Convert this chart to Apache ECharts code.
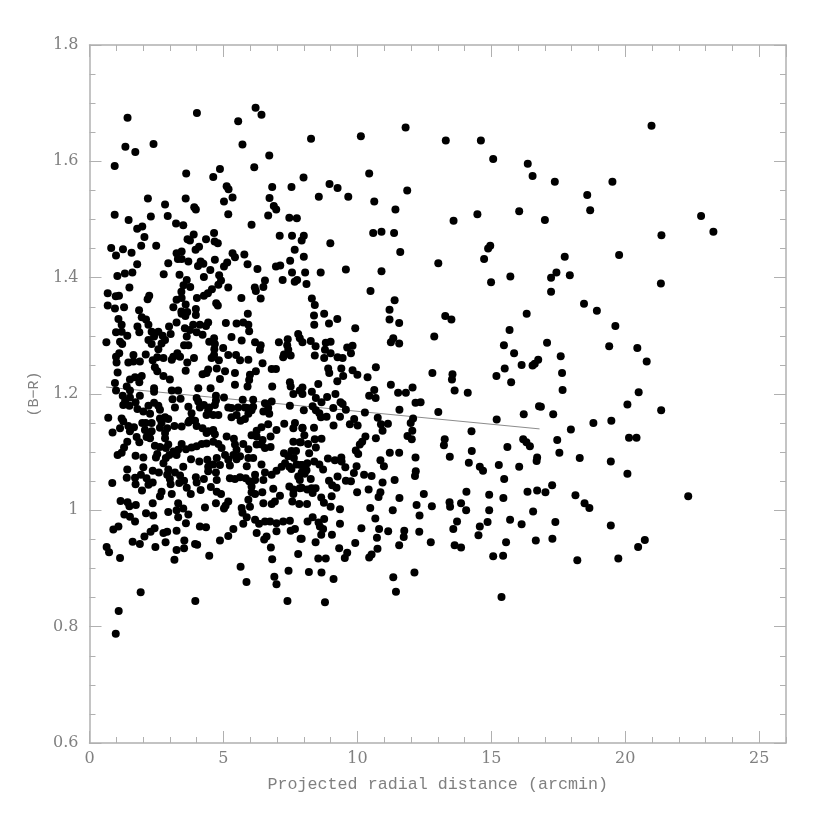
<!DOCTYPE html>
<html>
<head>
<meta charset="utf-8">
<style>
html, body { margin: 0; padding: 0; background: #fff; }
#main { width: 830px; height: 833px; }
</style>
<script src="https://cdn.jsdelivr.net/npm/echarts@6/dist/echarts.min.js"></script>
</head>
<body>
<div id="main"></div>
<script>
// [distance in arcmin, B-R colour]
var clusterPoints = [
[1.42,1.675],[1.34,1.625],[1.71,1.616],[2.39,1.630],[0.94,1.592],[4.01,1.683],[5.55,1.669],[6.20,1.692],[6.42,1.680],[5.71,1.629],
[6.15,1.590],[6.71,1.610],[3.61,1.579],[4.62,1.573],[4.87,1.587],[5.12,1.557],[5.19,1.552],[6.82,1.556],[7.54,1.556],[2.18,1.536],
[2.82,1.526],[3.59,1.536],[3.91,1.521],[3.97,1.517],[5.02,1.531],[5.34,1.538],[6.72,1.537],[6.88,1.523],[6.97,1.517],[0.94,1.508],
[2.29,1.505],[1.46,1.499],[2.92,1.506],[5.18,1.509],[6.67,1.507],[7.46,1.503],[7.74,1.502],[3.23,1.493],[3.50,1.490],[6.05,1.491],
[1.78,1.484],[1.97,1.488],[2.05,1.470],[3.89,1.474],[4.65,1.477],[3.66,1.466],[3.75,1.464],[4.35,1.466],[4.67,1.462],[4.79,1.459],
[7.10,1.472],[7.56,1.472],[7.92,1.464],[0.81,1.451],[1.25,1.449],[1.93,1.455],[2.49,1.455],[1.57,1.443],[0.99,1.438],[4.09,1.453],
[3.96,1.448],[3.25,1.442],[3.44,1.445],[3.30,1.432],[3.44,1.432],[3.69,1.428],[4.68,1.431],[5.34,1.442],[5.43,1.435],[5.78,1.440],
[7.66,1.448],[7.49,1.429],[4.15,1.428],[4.25,1.424],[4.05,1.420],[5.14,1.426],[5.02,1.419],[5.90,1.423],[6.96,1.419],[7.12,1.421],
[1.78,1.423],[2.94,1.425],[6.27,1.415],[7.56,1.409],[4.51,1.413],[2.77,1.406],[3.36,1.405],[4.84,1.404],[1.04,1.403],[1.32,1.407],
[1.60,1.409],[4.27,1.401],[3.63,1.396],[4.91,1.395],[6.55,1.395],[7.21,1.396],[7.66,1.393],[7.75,1.396],[3.51,1.387],[4.81,1.388],
[3.76,1.384],[1.49,1.383],[5.18,1.383],[6.17,1.383],[6.49,1.384],[6.21,1.377],[4.57,1.380],[4.42,1.373],[4.27,1.369],[3.43,1.376],
[0.68,1.373],[0.98,1.368],[1.10,1.369],[2.23,1.369],[2.17,1.363],[3.25,1.362],[3.44,1.365],[4.01,1.365],[5.67,1.365],[6.39,1.364],
[4.73,1.356],[4.79,1.352],[3.59,1.354],[0.68,1.352],[0.95,1.347],[1.29,1.349],[3.13,1.349],[3.97,1.346],[3.43,1.342],[3.65,1.341],
[1.85,1.344],[5.91,1.338],[3.97,1.336],[3.44,1.338],[3.58,1.334],[1.95,1.332],[1.08,1.329],[2.11,1.328],
[8.27,1.639],[10.13,1.643],[11.80,1.658],[13.30,1.636],[14.61,1.636],[15.07,1.604],[16.36,1.596],[16.54,1.575],[7.99,1.572],[8.96,1.561],
[9.26,1.554],[10.44,1.579],[11.86,1.550],[8.56,1.539],[9.66,1.539],[10.63,1.531],[11.42,1.517],[13.59,1.498],[14.48,1.509],[16.04,1.514],
[8.00,1.472],[10.59,1.477],[10.90,1.479],[11.37,1.477],[8.99,1.459],[14.96,1.455],[14.88,1.450],[8.00,1.436],[11.60,1.444],[14.73,1.432],
[13.02,1.425],[8.05,1.409],[8.63,1.409],[9.57,1.414],[10.90,1.411],[15.71,1.402],[14.99,1.392],[8.10,1.389],[10.49,1.377],[8.30,1.364],
[8.41,1.353],[11.39,1.361],[11.20,1.345],[8.76,1.338],[8.38,1.335],[9.25,1.329],[11.20,1.328],[11.56,1.322],[13.28,1.334],[13.51,1.328],
[16.32,1.338],[8.39,1.319],[8.94,1.321],[9.92,1.313],[15.68,1.310],
[12.87,1.299],[15.47,1.284],[15.85,1.270],[16.13,1.250],[16.75,1.259],[16.62,1.252],[16.54,1.249],[15.50,1.244],[15.19,1.231],[15.74,1.220],
[12.80,1.236],[13.55,1.234],[13.53,1.225],[13.63,1.206],[14.12,1.202],[11.34,1.296],[11.25,1.289],[11.56,1.287],[8.26,1.291],[7.95,1.289],
[8.44,1.282],[8.82,1.288],[9.00,1.290],[9.82,1.283],[9.62,1.280],[8.79,1.276],[9.00,1.270],[9.76,1.270],[8.41,1.266],[8.76,1.262],
[9.26,1.263],[9.45,1.262],[8.91,1.244],[8.95,1.236],[9.40,1.244],[9.82,1.241],[9.47,1.231],[10.00,1.233],[10.38,1.229],[10.69,1.246],
[9.25,1.222],[8.54,1.217],[11.25,1.216],[7.95,1.211],[7.95,1.200],[8.30,1.204],[12.06,1.211],[10.63,1.207],[11.52,1.202],[11.81,1.202],
[9.18,1.200],[10.44,1.197],[10.68,1.193],[8.45,1.193],[8.87,1.195],[8.66,1.186],[9.37,1.186],[9.45,1.183],[12.17,1.185],[12.36,1.186],
[8.33,1.179],[9.10,1.176],[9.57,1.173],[8.45,1.172],[8.58,1.167],[10.28,1.168],[11.57,1.173],[13.02,1.169],[16.21,1.165],[16.78,1.179],
[8.85,1.161],[8.64,1.160],[9.35,1.161],[9.88,1.157],[10.76,1.159],[12.08,1.158],[15.20,1.156],[11.99,1.150],[10.88,1.148],[11.14,1.149],
[9.72,1.148],[10.01,1.146],[9.11,1.146],[7.95,1.141],[8.38,1.142],[12.05,1.137],[10.94,1.137],[14.26,1.136],[8.02,1.129],[10.30,1.127],
[11.87,1.128],[10.69,1.124],[8.66,1.123],[8.41,1.122],[12.03,1.122],[13.26,1.122],[13.23,1.112],[10.18,1.118],[10.09,1.113],[8.16,1.114],
[7.89,1.117],[8.45,1.108],[9.94,1.103],[10.03,1.097],[14.27,1.102],[15.60,1.109],[16.19,1.122],[16.31,1.117],[16.44,1.110],[8.20,1.098],
[11.21,1.099],[11.56,1.099],[12.17,1.091],[13.45,1.092],[16.71,1.091],[16.69,1.085],[8.90,1.089],[9.16,1.086],[9.40,1.091],[9.41,1.084],
[10.86,1.086],[8.39,1.084],[8.13,1.081],[8.58,1.079],[7.95,1.078],[9.55,1.074],[9.97,1.076],[10.99,1.076],[14.16,1.082],[15.28,1.078],
[16.04,1.075],[14.57,1.075],[14.69,1.068],[8.72,1.070],[8.10,1.069],[8.03,1.063],[12.18,1.067],[12.15,1.059],[10.25,1.061],[10.53,1.059],
[9.87,1.064],[9.26,1.058],[8.26,1.054],[8.94,1.051],[9.57,1.051],[9.76,1.050],[10.94,1.048],[11.39,1.052],[15.48,1.054],[9.06,1.043],
[9.22,1.039],[7.92,1.039],[8.13,1.036],[8.44,1.038],[8.33,1.030],[9.99,1.031],[10.42,1.036],[10.86,1.031],[14.07,1.032],[12.48,1.028],
[14.92,1.027],[16.35,1.032],[16.71,1.034],[8.65,1.022],[9.04,1.024],[10.79,1.023],[11.57,1.021],[15.45,1.021],[8.75,1.013],[8.12,1.011],
[9.00,1.006],[9.35,1.002],[10.48,1.004],[12.21,1.009],[12.78,1.007],[13.44,1.014],[13.46,1.006],[13.87,1.012],[14.06,1.000],[14.92,1.000],
[11.32,1.000],[16.56,0.998],[12.32,0.991],[10.67,0.986],[8.33,0.988],[8.14,0.981],[8.76,0.985],[13.72,0.981],[15.70,0.984],[16.13,0.976],
[9.35,0.977],[14.86,0.980],[14.57,0.972],[8.55,0.979],[8.60,0.972],[8.72,0.968],[10.15,0.969],[10.81,0.968],[11.15,0.964],[13.58,0.968],
[11.75,0.965],[12.31,0.963],[14.52,0.957],[8.65,0.958],[9.05,0.958],[10.73,0.953],[11.73,0.954],[7.92,0.951],[8.44,0.945],[9.92,0.944],
[12.74,0.945],[15.55,0.945],[16.66,0.948],[11.56,0.940],[13.63,0.940],[13.87,0.936],[9.32,0.935],[10.75,0.934],[9.62,0.927],[10.53,0.924],
[10.44,0.919],[15.07,0.921],[15.44,0.922],[8.54,0.917],[8.82,0.917],[9.53,0.918],
[8.19,0.894],[8.66,0.893],[9.11,0.882],[11.34,0.885],[12.13,0.893],[11.44,0.860],[15.38,0.851],[8.79,0.842],
[1.20,1.319],[1.79,1.316],[2.20,1.319],[2.97,1.316],[3.25,1.323],[1.86,1.306],[0.99,1.306],[1.20,1.307],[1.41,1.300],[0.63,1.289],
[1.14,1.290],[1.22,1.286],[2.32,1.307],[2.57,1.307],[2.73,1.300],[3.03,1.303],[2.41,1.299],[2.20,1.293],[2.32,1.286],[2.82,1.293],
[2.69,1.287],[2.57,1.277],[3.56,1.313],[3.75,1.310],[3.87,1.319],[4.12,1.319],[4.35,1.317],[4.43,1.323],[4.00,1.306],[4.22,1.302],
[3.63,1.299],[3.53,1.284],[3.69,1.284],[4.47,1.290],[4.65,1.296],[4.68,1.286],[5.09,1.322],[5.49,1.321],[5.74,1.323],[5.93,1.319],
[5.96,1.308],[5.30,1.298],[5.68,1.292],[6.18,1.289],[6.39,1.284],[6.36,1.276],[4.66,1.277],[4.99,1.279],[4.65,1.267],[5.18,1.267],
[5.47,1.267],[5.93,1.259],[5.62,1.258],[4.83,1.258],[4.56,1.262],[3.90,1.262],[3.65,1.254],[3.38,1.264],[3.28,1.270],[3.07,1.259],
[3.13,1.264],[2.76,1.262],[2.53,1.263],[2.36,1.258],[2.10,1.268],[1.64,1.267],[1.64,1.256],[1.88,1.256],[1.45,1.254],[1.11,1.270],
[0.99,1.264],[1.01,1.254],[2.44,1.246],[2.53,1.239],[2.76,1.231],[3.00,1.225],[1.05,1.237],[3.59,1.240],[4.43,1.242],[4.37,1.236],
[4.22,1.234],[4.75,1.244],[5.06,1.239],[5.43,1.236],[4.87,1.226],[6.21,1.239],[5.99,1.233],[5.96,1.224],[6.46,1.253],[6.80,1.243],
[6.96,1.243],[7.07,1.289],[7.40,1.294],[7.38,1.284],[7.79,1.303],[7.85,1.296],[7.42,1.276],[7.26,1.268],[7.51,1.266],[7.23,1.263],
[1.95,1.231],[1.70,1.229],[1.51,1.225],[1.86,1.220],[1.39,1.213],[0.95,1.219],[0.99,1.206],[1.51,1.206],[2.41,1.210],[2.41,1.204],
[3.07,1.206],[3.31,1.206],[4.06,1.210],[4.52,1.210],[5.43,1.216],[5.90,1.213],[6.82,1.213],[7.48,1.220],[7.51,1.213],[7.61,1.200],
[7.85,1.206],[1.24,1.197],[1.51,1.194],[1.88,1.197],[3.10,1.191],[3.40,1.192],[4.00,1.193],[4.06,1.187],[4.72,1.197],[5.02,1.194],
[4.72,1.189],[1.26,1.181],[1.49,1.180],[1.33,1.188],[1.72,1.186],[1.79,1.174],[2.01,1.170],[2.20,1.180],[2.41,1.185],[2.57,1.180],
[2.63,1.173],[3.19,1.177],[3.69,1.178],[4.12,1.177],[4.27,1.181],[4.47,1.177],[4.68,1.181],[4.43,1.172],[3.81,1.167],[2.26,1.166],
[4.37,1.164],[4.62,1.164],[4.81,1.164],[5.18,1.177],[5.30,1.176],[5.55,1.177],[5.72,1.190],[5.80,1.177],[6.11,1.190],[6.11,1.178],
[5.90,1.176],[6.05,1.172],[5.93,1.166],[5.49,1.164],[5.30,1.160],[5.80,1.157],[5.64,1.154],[6.55,1.184],[6.80,1.187],[6.67,1.176],
[6.49,1.170],[6.71,1.166],[7.48,1.180],[8.00,1.172],[0.70,1.159],[1.20,1.158],[1.26,1.153],[2.63,1.158],[2.82,1.160],[2.94,1.157],
[2.69,1.151],[3.81,1.156],[3.94,1.154],[3.73,1.154],[1.97,1.150],[2.10,1.150],[2.32,1.150],[1.45,1.145],[1.66,1.143],[1.14,1.141],
[0.86,1.134],[1.51,1.136],[2.07,1.138],[2.32,1.136],[2.20,1.133],[2.63,1.142],[2.90,1.141],[3.17,1.145],[3.44,1.144],[3.69,1.151],
[4.00,1.145],[4.22,1.141],[4.43,1.136],[4.62,1.138],[4.68,1.131],[4.37,1.133],[2.13,1.126],[1.76,1.126],[2.82,1.133],[2.26,1.124],
[1.86,1.117],[1.41,1.118],[2.82,1.124],[5.12,1.127],[5.39,1.123],[6.05,1.129],[6.24,1.137],[6.42,1.143],[6.67,1.148],[6.98,1.138],
[7.27,1.149],[7.67,1.150],[7.61,1.141],[7.95,1.142],[6.24,1.127],[6.46,1.121],[6.76,1.127],[6.24,1.113],[6.42,1.113],[5.93,1.105],
[5.74,1.114],[6.55,1.107],[6.76,1.109],[7.61,1.118],[7.85,1.117],[5.43,1.113],[5.49,1.104],[4.81,1.114],[4.93,1.107],[4.62,1.118],
[4.37,1.115],[4.19,1.114],[4.00,1.110],[3.81,1.108],[3.60,1.105],[3.44,1.114],[3.31,1.104],[3.13,1.101],[2.94,1.113],[2.85,1.107],
[2.63,1.109],[2.44,1.111],[2.53,1.097],[1.29,1.108],[1.20,1.099],[1.05,1.095],[1.72,1.094],[2.01,1.091],[2.48,1.091],[2.98,1.095],
[3.25,1.095],[2.85,1.090],[2.76,1.081],[3.79,1.088],[4.10,1.084],[4.40,1.087],[4.75,1.090],[5.06,1.095],[5.37,1.095],[5.62,1.093],
[5.93,1.090],[6.11,1.090],[4.87,1.078],[4.62,1.079],[4.43,1.075],[5.18,1.087],[5.24,1.077],[5.49,1.088],[6.42,1.079],[5.87,1.076],
[7.30,1.081],[7.46,1.075],[7.17,1.075],[6.98,1.068],[6.80,1.061],[6.55,1.065],[6.49,1.052],[7.73,1.079],[7.88,1.078],[7.54,1.102],
[7.71,1.102],[7.26,1.098],[7.42,1.093],[7.63,1.090],[7.54,1.071],[7.79,1.058],[7.92,1.065],[7.85,1.052],[1.41,1.070],[1.39,1.056],
[1.70,1.056],[1.92,1.061],[2.01,1.074],[2.36,1.068],[2.59,1.065],[2.13,1.055],[1.72,1.045],[2.20,1.044],[2.36,1.048],[0.85,1.047],
[1.96,1.034],[2.94,1.070],[2.90,1.061],[3.00,1.054],[3.19,1.065],[3.38,1.060],[3.50,1.075],[3.03,1.045],[3.35,1.047],[3.53,1.051],
[3.63,1.039],[3.78,1.028],[3.97,1.057],[4.00,1.048],[4.27,1.054],[4.43,1.067],[4.72,1.065],[4.75,1.052],[4.15,1.035],[4.53,1.040],
[4.75,1.032],[4.91,1.028],[5.24,1.055],[5.43,1.054],[5.62,1.057],[5.83,1.055],[5.96,1.050],[6.18,1.061],[6.18,1.052],[6.05,1.041],
[6.05,1.031],[6.18,1.028],[6.45,1.031],[6.86,1.037],[7.46,1.041],[7.61,1.036],[7.61,1.028],[7.85,1.038],[8.29,1.038],[7.57,1.015],
[7.83,1.011],[2.69,1.032],[2.63,1.024],[3.07,1.028],[1.16,1.016],[1.42,1.014],[1.49,1.007],[1.73,1.009],[2.36,1.012],[3.31,1.012],
[4.72,1.012],[5.18,1.015],[5.08,1.008],[5.02,1.003],[5.93,1.018],[6.49,1.012],[6.80,1.011],[6.92,1.015],[7.11,1.025],[4.31,1.005],
[5.68,1.004],[5.99,1.006],[5.71,0.996],[3.50,1.003],[3.25,1.000],[2.94,0.997],[3.31,0.988],[3.69,0.993],[2.11,0.995],[2.38,0.991],
[1.30,0.993],[1.51,0.989],[1.70,0.981],[5.87,0.988],[5.74,0.977],[6.18,0.984],[6.33,0.977],[6.55,0.981],[6.74,0.981],[6.98,0.978],
[7.23,0.981],[7.48,0.982],[7.67,0.968],[7.51,0.965],[3.60,0.978],[4.12,0.972],[4.35,0.971],[2.43,0.969],[1.08,0.972],[0.89,0.967],
[2.28,0.963],[2.05,0.955],[2.90,0.963],[2.76,0.961],[3.25,0.965],[5.37,0.968],[5.18,0.956],[4.87,0.948],[6.24,0.961],[6.98,0.964],
[6.61,0.955],[6.52,0.950],[7.88,0.951],[1.61,0.946],[1.88,0.942],[2.84,0.945],[3.54,0.948],[3.94,0.942],[4.02,0.941],[0.64,0.937],
[0.73,0.928],[2.46,0.937],[3.25,0.932],[3.53,0.935],[1.14,0.918],[3.17,0.915],[4.47,0.922],[6.77,0.936],[7.79,0.925],[6.82,0.916],
[5.64,0.903],[7.43,0.896],[5.86,0.877],[6.90,0.886],[6.98,0.873],[1.91,0.859],[3.95,0.844],[7.39,0.844],[1.09,0.827],[0.98,0.788],
[17.37,1.565],[19.52,1.565],[18.58,1.542],[18.69,1.516],[17.00,1.499],[22.83,1.506],[23.29,1.479],[21.35,1.473],[17.74,1.436],[19.77,1.439],
[17.43,1.409],[17.23,1.400],[17.93,1.404],[21.33,1.390],[17.23,1.376],[18.46,1.355],[18.94,1.343],[19.63,1.317],[17.08,1.288],[19.40,1.282],
[20.45,1.279],[17.59,1.265],[20.80,1.256],[17.64,1.236],[17.66,1.207],[20.50,1.203],[20.98,1.661],
[16.85,1.178],[17.31,1.165],[17.97,1.139],[18.81,1.150],[19.48,1.154],[20.08,1.182],[21.34,1.172],[17.46,1.121],[20.14,1.125],[20.42,1.125],
[17.54,1.099],[18.30,1.090],[19.46,1.084],[20.08,1.063],[17.27,1.043],[17.02,1.031],[18.14,1.026],[18.48,1.012],[18.66,1.004],[22.35,1.024],
[17.39,0.980],[19.46,0.974],[20.73,0.949],[20.48,0.937],[17.28,0.951],[19.74,0.917],[18.21,0.914]
];
var fitDistance = [0.62, 16.8];
var fitColour = [1.212, 1.14];

var tickColor = '#b0b0b0';
var textColor = '#808080';
var tickFont = 'DejaVu Serif';
var nameFont = 'Liberation Mono';

// pgplot style box: every side has its own minor and major ticks
function xBoxAxis(position, interval, len, labelled) {
    return {
        type: 'value', position: position, min: 0, max: 26, interval: interval,
        name: labelled ? 'Projected radial distance (arcmin)' : '',
        nameLocation: 'middle', nameGap: 33,
        nameTextStyle: { color: textColor, fontFamily: nameFont, fontSize: 16.7 },
        splitLine: { show: false },
        axisLine: { show: interval === 5, onZero: false, lineStyle: { color: tickColor, width: 1.5 } },
        axisTick: { show: true, inside: true, length: len, lineStyle: { color: tickColor, width: 1 } },
        axisLabel: { show: labelled, showMaxLabel: false, margin: 8, color: textColor, fontFamily: tickFont, fontSize: 16 }
    };
}
function yBoxAxis(position, interval, len, labelled) {
    return {
        type: 'value', position: position, min: 0.6, max: 1.8, interval: interval,
        name: labelled ? '(B\u2212R)' : '',
        nameLocation: 'middle', nameGap: 48,
        nameTextStyle: { color: textColor, fontFamily: nameFont, fontSize: 15 },
        splitLine: { show: false },
        axisLine: { show: interval === 0.2, onZero: false, lineStyle: { color: tickColor, width: 1.5 } },
        axisTick: { show: true, inside: true, length: len, lineStyle: { color: tickColor, width: 1 } },
        axisLabel: { show: labelled, margin: 11, color: textColor, fontFamily: tickFont, fontSize: 16 }
    };
}

var option = {
    animation: false,
    backgroundColor: '#fff',
    grid: { left: 89.5, top: 45, right: 44, bottom: 90 },
    xAxis: [
        xBoxAxis('bottom', 5, 12, true),
        xBoxAxis('bottom', 1, 6, false),
        xBoxAxis('top', 5, 12, false),
        xBoxAxis('top', 1, 6, false)
    ],
    yAxis: [
        yBoxAxis('left', 0.2, 12, true),
        yBoxAxis('left', 0.05, 6, false),
        yBoxAxis('right', 0.2, 12, false),
        yBoxAxis('right', 0.05, 6, false)
    ],
    series: [{
        type: 'line',
        z: 1,
        symbol: 'none',
        silent: true,
        data: fitDistance.map(function (d, i) { return [d, fitColour[i]]; }),
        lineStyle: { color: '#8c8c8c', width: 1 }
    }, {
        type: 'scatter',
        z: 2,
        symbol: 'circle',
        symbolSize: 8,
        data: clusterPoints,
        itemStyle: { color: '#000', opacity: 1 }
    }]
};

var chart = echarts.init(document.getElementById('main'), null, { renderer: 'canvas' });
chart.setOption(option);
</script>
</body>
</html>
